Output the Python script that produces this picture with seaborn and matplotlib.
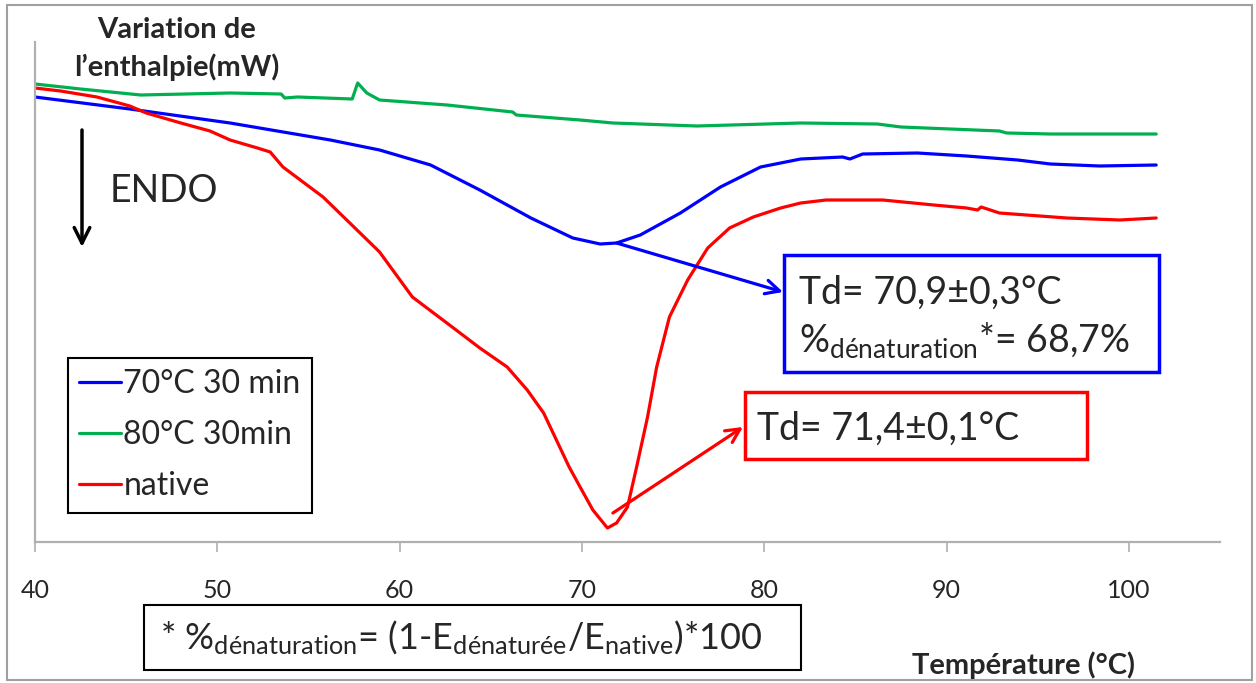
import numpy as np
import pandas as pd
import matplotlib
matplotlib.use("Agg")
import matplotlib.pyplot as plt
from matplotlib.patches import Rectangle, FancyArrowPatch
import seaborn as sns

temp_native = [40.0, 41.4, 43.4, 45.2, 46.1, 48.0, 49.6, 50.7, 52.2, 52.9, 53.6, 55.8, 57.1,
               58.9, 60.7, 63.1, 64.4, 65.9, 67.0, 67.9, 68.6, 69.3, 69.9, 70.6, 71.4, 71.9,
               72.5, 73.0, 73.6, 74.1, 74.8, 75.8, 76.9, 78.1, 79.4, 80.9, 82.0, 83.4, 86.5,
               89.3, 91.1, 91.7, 91.9, 92.9, 96.6, 99.5, 101.5]
flux_native = [4.82, 4.79, 4.73, 4.64, 4.57, 4.47, 4.39, 4.30, 4.22, 4.18, 4.03, 3.73, 3.50,
               3.18, 2.73, 2.40, 2.22, 2.03, 1.80, 1.57, 1.30, 1.03, 0.83, 0.60, 0.42, 0.47,
               0.63, 1.03, 1.53, 2.03, 2.53, 2.90, 3.22, 3.42, 3.53, 3.62, 3.67, 3.70, 3.70,
               3.65, 3.62, 3.60, 3.63, 3.57, 3.52, 3.50, 3.52]

temp_70 = [40.0, 45.2, 50.7, 56.2, 58.9, 61.7, 64.4, 67.2, 69.5, 71.0, 71.9, 73.2, 75.4,
           77.6, 79.8, 82.0, 84.3, 84.7, 85.4, 88.4, 91.1, 93.9, 95.7, 98.4, 101.5]
flux_70 = [4.73, 4.61, 4.47, 4.30, 4.20, 4.05, 3.80, 3.52, 3.32, 3.26, 3.27, 3.35, 3.57,
           3.83, 4.03, 4.11, 4.13, 4.11, 4.16, 4.17, 4.14, 4.10, 4.06, 4.04, 4.05]

temp_80 = [40.0, 42.5, 45.8, 50.7, 53.5, 53.7, 54.4, 57.4, 57.7, 58.2, 58.9, 62.6, 66.2,
           66.4, 69.9, 71.7, 76.3, 82.0, 86.2, 87.5, 92.9, 93.3, 95.7, 101.5]
flux_80 = [4.86, 4.81, 4.75, 4.77, 4.76, 4.72, 4.73, 4.71, 4.87, 4.77, 4.70, 4.65, 4.58,
           4.55, 4.50, 4.47, 4.44, 4.47, 4.46, 4.43, 4.39, 4.37, 4.36, 4.36]

series = ["70°C 30 min", "80°C 30min", "native"]
couleurs = ["#0000FF", "#00B050", "#FF0000"]

df = pd.concat([
    pd.DataFrame({"T": temp_70, "flux": flux_70, "echantillon": series[0]}),
    pd.DataFrame({"T": temp_80, "flux": flux_80, "echantillon": series[1]}),
    pd.DataFrame({"T": temp_native, "flux": flux_native, "echantillon": series[2]}),
])

sns.set_style("white")
plt.rcParams['font.family'] = ['Lato', 'DejaVu Sans']
plt.rcParams['mathtext.fontset'] = 'custom'
plt.rcParams['mathtext.rm'] = 'Lato'
plt.rcParams['mathtext.it'] = 'Lato:italic'
plt.rcParams['mathtext.bf'] = 'Lato:bold'

W, H = 1256, 683
fig = plt.figure(figsize=(W / 100, H / 100), dpi=100)
ax = fig.add_axes([35 / W, 1 - 542 / H, (1220 - 35) / W, (542 - 42) / H])

def fx(px):
    return px / W

def fy(py):
    return 1 - py / H

sns.lineplot(data=df, x="T", y="flux", hue="echantillon", palette=couleurs,
             hue_order=series, estimator=None, sort=False, linewidth=2.3, ax=ax)

ax.set_xlim(40, 105)
ax.set_ylim(0.28, 5.28)
ax.set_xticks([40, 50, 60, 70, 80, 90, 100])
ax.set_yticks([])
ax.set_xlabel("")
ax.set_ylabel("")
for s in ["top", "right"]:
    ax.spines[s].set_visible(False)
for s in ["left", "bottom"]:
    ax.spines[s].set_color("#b0b0b0")
    ax.spines[s].set_linewidth(1.6)
ax.tick_params(axis="x", direction="out", length=7, width=1.2, color="#b0b0b0",
               labelsize=18, pad=20, bottom=True)

# légende
handles, labels = ax.get_legend_handles_labels()
leg = ax.legend(handles, labels, loc="upper left", bbox_to_anchor=(fx(68), fy(358)),
                bbox_transform=fig.transFigure, fontsize=23, frameon=True, fancybox=False,
                framealpha=1, edgecolor="black", handlelength=1.3, handletextpad=0.08,
                labelspacing=0.66, borderpad=0.35, borderaxespad=0)
leg.get_frame().set_linewidth(1.5)

# titres des axes
fig.text(fx(177), fy(30), "Variation de", ha="center", va="center", fontsize=21, fontweight="bold")
fig.text(fx(177), fy(67), "l’enthalpie(mW)", ha="center", va="center", fontsize=21, fontweight="bold")
fig.text(fx(1024), fy(665), "Température (°C)", ha="center", va="center", fontsize=21, fontweight="bold")

# ENDO
fig.text(fx(110), fy(191), "ENDO", ha="left", va="center", fontsize=27)
fig.add_artist(FancyArrowPatch((fx(82), fy(130)), (fx(82), fy(247)),
               transform=fig.transFigure, arrowstyle="->", mutation_scale=28,
               color="black", lw=2.5, shrinkA=0, shrinkB=0))

# encadrés Td
fig.add_artist(Rectangle((fx(784), fy(372)), fx(1159) - fx(784), fy(255) - fy(372),
               transform=fig.transFigure, fill=False, edgecolor="#0000FF", lw=2.5))
fig.text(fx(799), fy(293), "Td= 70,9±0,3°C", ha="left", va="center", fontsize=27)
fig.text(fx(799), fy(340), r"%$_{\mathrm{dénaturation}}$*= 68,7%", ha="left", va="center", fontsize=27)

fig.add_artist(Rectangle((fx(745), fy(459)), fx(1087) - fx(745), fy(392) - fy(459),
               transform=fig.transFigure, fill=False, edgecolor="#FF0000", lw=2.5))
fig.text(fx(757), fy(429), "Td= 71,4±0,1°C", ha="left", va="center", fontsize=27)

# flèches vers les encadrés
ax.annotate("", xy=(fx(783), fy(292)), xycoords="figure fraction",
            xytext=(71.9, 3.27), textcoords="data",
            arrowprops=dict(arrowstyle="->", color="#0000FF", lw=2.3, mutation_scale=25,
                            shrinkA=0, shrinkB=0))
ax.annotate("", xy=(fx(743), fy(427)), xycoords="figure fraction",
            xytext=(71.7, 0.57), textcoords="data",
            arrowprops=dict(arrowstyle="->", color="#FF0000", lw=2.3, mutation_scale=25,
                            shrinkA=0, shrinkB=0))

# formule
fig.add_artist(Rectangle((fx(144), fy(670)), fx(801) - fx(144), fy(605) - fy(670),
               transform=fig.transFigure, fill=False, edgecolor="black", lw=1.5))
fig.text(fx(160), fy(638),
         r"* %$_{\mathrm{dénaturation}}$= (1-E$_{\mathrm{dénaturée}}$/E$_{\mathrm{native}}$)*100",
         ha="left", va="center", fontsize=26)

# cadre gris autour de la figure
fig.add_artist(Rectangle((fx(7), fy(680)), fx(1252) - fx(7), fy(5) - fy(680),
               transform=fig.transFigure, fill=False, edgecolor="#a0a0a0", lw=1.5))

fig.savefig("out.png", dpi=100)
